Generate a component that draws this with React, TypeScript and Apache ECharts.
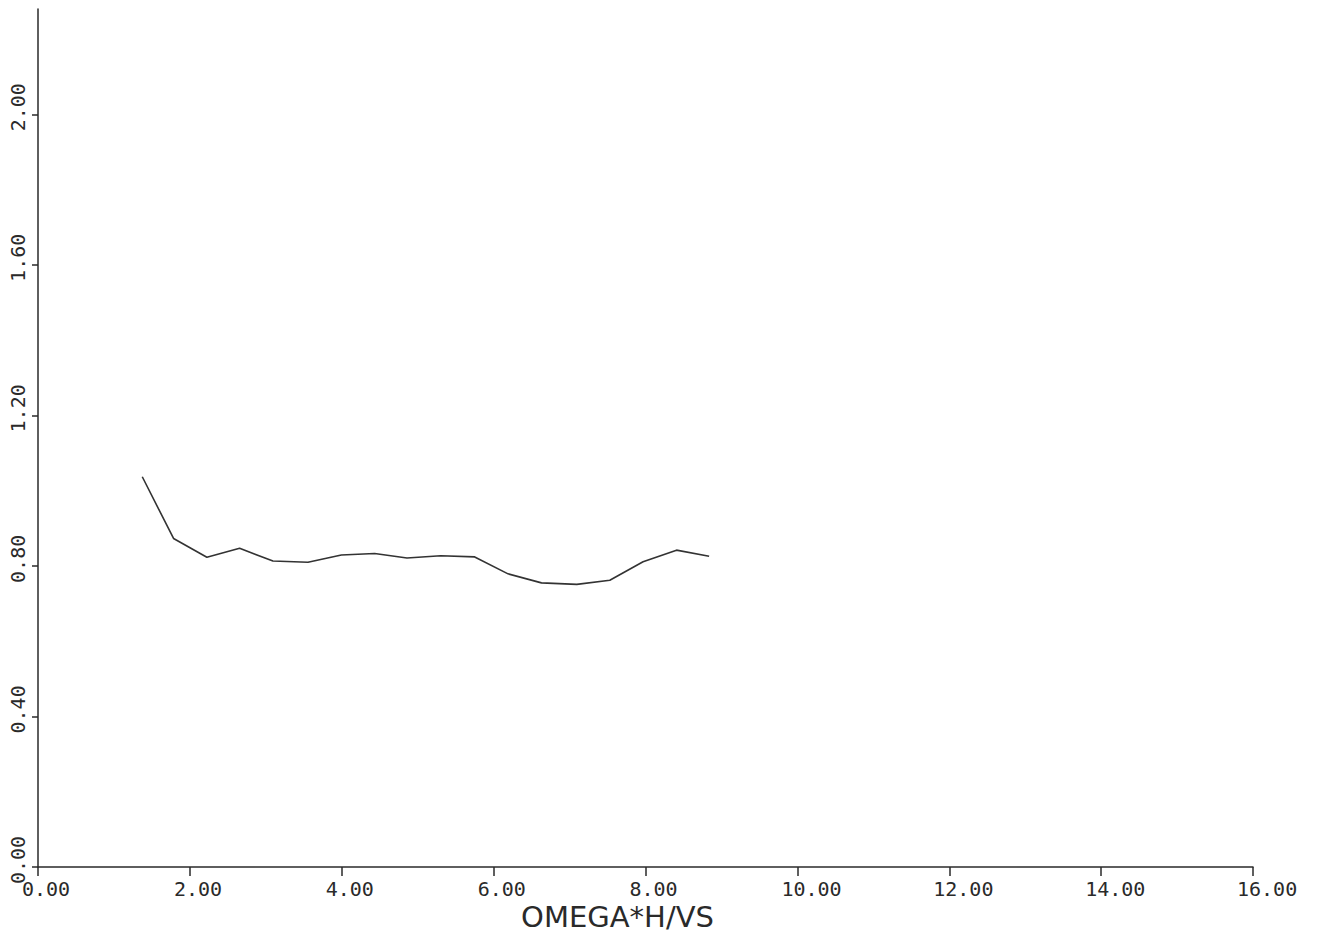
import React, { useEffect, useRef } from "react";
import * as echarts from "echarts";

const xValues = [1.373, 1.785, 2.224, 2.655, 3.094, 3.555, 3.995, 4.433, 4.859, 5.303, 5.751, 6.19, 6.63, 7.095, 7.53, 7.968, 8.408, 8.838];
const yValues = [1.037, 0.873, 0.823, 0.847, 0.813, 0.81, 0.829, 0.833, 0.821, 0.827, 0.824, 0.779, 0.755, 0.751, 0.762, 0.811, 0.842, 0.826];
const xTicks = [0, 2, 4, 6, 8, 10, 12, 14, 16];
const yTicks = [0, 0.4, 0.8, 1.2, 1.6, 2.0];
const xTitle = "OMEGA*H/VS";

const FONT = "DejaVu Sans Mono";
const INK = "#2a2a2a";

export default function App() {
  const ref = useRef<HTMLDivElement>(null);
  useEffect(() => {
    if (!ref.current) return;
    const chart = echarts.init(ref.current, null, { renderer: "svg" });
    const data = xValues.map((x, i) => [x, yValues[i]]);
    chart.setOption({
      animation: false,
      backgroundColor: "#ffffff",
      grid: { left: 38, right: 74, top: 9, bottom: 67, containLabel: false, outerBoundsMode: "none" },
      xAxis: {
        type: "value",
        min: 0,
        max: 16,
        interval: 2,
        name: xTitle,
        nameLocation: "middle",
        nameGap: 38,
        nameMoveOverlap: false,
        nameTextStyle: { fontFamily: "DejaVu Sans", fontSize: 29, lineHeight: 24, color: INK, padding: [0, 56, 0, 0] },
        axisLine: { show: true, onZero: false, lineStyle: { color: INK, width: 1.5 } },
        axisTick: { show: true, inside: false, length: 9, customValues: xTicks, lineStyle: { color: INK, width: 1.5 } },
        axisLabel: {
          customValues: xTicks,
          fontFamily: FONT,
          fontSize: 20,
          lineHeight: 16,
          color: INK,
          margin: 14,
          align: "left",
          padding: [0, 0, 0, -16],
          formatter: (v: number) => v.toFixed(2),
        },
        splitLine: { show: false },
      },
      yAxis: {
        type: "value",
        min: 0,
        max: 2.28,
        interval: 0.4,
        axisLine: { show: true, onZero: false, lineStyle: { color: INK, width: 1.5 } },
        axisTick: { show: true, inside: false, length: 6, customValues: yTicks, lineStyle: { color: INK, width: 1.5 } },
        axisLabel: {
          customValues: yTicks,
          fontFamily: FONT,
          fontSize: 20,
          color: INK,
          rotate: 90,
          margin: 10,
          align: "left",
          verticalAlign: "bottom",
          padding: [0, 0, 0, -17],
          formatter: (v: number) => v.toFixed(2),
        },
        splitLine: { show: false },
      },
      series: [
        {
          type: "line",
          data,
          symbol: "none",
          lineStyle: { color: "#333333", width: 1.6 },
        },
      ],
    });
    return () => chart.dispose();
  }, []);
  return (
    <div
      ref={ref}
      style={{ position: "fixed", left: 0, top: 0, width: 1327, height: 934, background: "#fff" }}
    />
  );
}
